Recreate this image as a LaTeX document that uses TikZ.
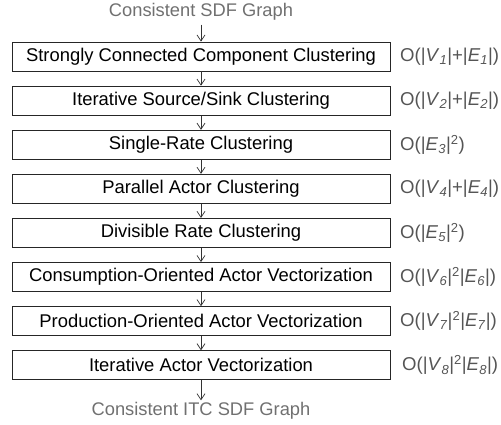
\documentclass[tikz,border=0pt]{standalone}
\usepackage{fontspec}
\setmainfont{Liberation Sans}
\usetikzlibrary{arrows.meta}
\definecolor{lbl}{HTML}{707070}
\definecolor{cx}{HTML}{555555}
\begin{document}
\begin{tikzpicture}[x=1pt,y=-1pt,
  stage/.style={draw=black!85,line width=0.9pt,minimum width=378pt,minimum height=29pt,inner sep=0pt,font=\fontsize{18.4}{21}\selectfont},
  io/.style={text=lbl,font=\fontsize{18.3}{21}\selectfont,inner sep=0pt},
  cplx/.style={text=cx,anchor=west,font=\fontsize{18.6}{21}\selectfont,inner sep=0pt},
  flow/.style={draw=black!80,line width=0.7pt,-{Straight Barb[length=6pt,width=8pt,line width=0.7pt]}}]
\useasboundingbox (0,0) rectangle (501,424);
\node[io] (in) at (201,12) {Consistent SDF Graph};
\node[stage] (s1) at (201,56.5) {Strongly Connected Component Clustering};
\node[stage] (s2) at (201,100.6) {Iterative Source/Sink Clustering};
\node[stage] (s3) at (201,144.7) {Single-Rate Clustering};
\node[stage] (s4) at (201,188.8) {Parallel Actor Clustering};
\node[stage] (s5) at (201,232.9) {Divisible Rate Clustering};
\node[stage] (s6) at (201,277.0) {Consumption-Oriented Actor Vectorization};
\node[stage] (s7) at (201,321.1) {Production-Oriented Actor Vectorization};
\node[stage] (s8) at (201,365.2) {Iterative Actor Vectorization};
\node[io] (out) at (201,411) {Consistent ITC SDF Graph};
\draw[flow,shorten <=4pt] (in) -- (s1);
\draw[flow] (s1) -- (s2);
\draw[flow] (s2) -- (s3);
\draw[flow] (s3) -- (s4);
\draw[flow] (s4) -- (s5);
\draw[flow] (s5) -- (s6);
\draw[flow] (s6) -- (s7);
\draw[flow] (s7) -- (s8);
\draw[flow,shorten >=2pt] (s8) -- (out);
\node[cplx] (c1) at (400,56.5) {O(|\textit{V}\textsubscript{\textit{1}}|+|\textit{E}\textsubscript{\textit{1}}|)};
\node[cplx] (c2) at (400,100.6) {O(|\textit{V}\textsubscript{\textit{2}}|+|\textit{E}\textsubscript{\textit{2}}|)};
\node[cplx] (c3) at (400,144.7) {O(|\textit{E}\textsubscript{\textit{3}}|\textsuperscript{2})};
\node[cplx] (c4) at (400,188.8) {O(|\textit{V}\textsubscript{\textit{4}}|+|\textit{E}\textsubscript{\textit{4}}|)};
\node[cplx] (c5) at (400,232.9) {O(|\textit{E}\textsubscript{\textit{5}}|\textsuperscript{2})};
\node[cplx] (c6) at (400,277.0) {O(|\textit{V}\textsubscript{\textit{6}}|\textsuperscript{2}|\textit{E}\textsubscript{\textit{6}}|)};
\node[cplx] (c7) at (400,321.1) {O(|\textit{V}\textsubscript{\textit{7}}|\textsuperscript{2}|\textit{E}\textsubscript{\textit{7}}|)};
\node[cplx] (c8) at (402,365.2) {O(|\textit{V}\textsubscript{\textit{8}}|\textsuperscript{2}|\textit{E}\textsubscript{\textit{8}}|)};
\end{tikzpicture}
\end{document}
